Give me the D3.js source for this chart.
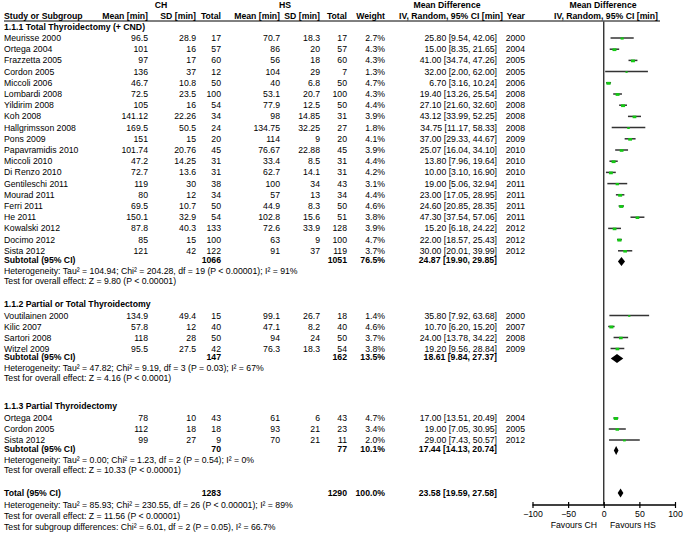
<!doctype html>
<html>
<head>
<meta charset="utf-8">
<script src="https://cdnjs.cloudflare.com/ajax/libs/d3/7.8.5/d3.min.js"></script>
<style>
body{margin:0;background:#fff}
svg{display:block;font-family:"Liberation Sans",Arial,sans-serif;font-size:8.7px;fill:#000}
.b{font-weight:bold}
</style>
</head>
<body>
<svg width="685" height="533"></svg>
<script>
// studies, in display order
const studyNames = ["Meurisse 2000","Ortega 2004","Frazzetta 2005","Cordon 2005","Miccoli 2006","Lombardi 2008","Yildirim 2008","Koh 2008","Hallgrimsson 2008","Pons 2009","Papavramidis 2010","Miccoli 2010","Di Renzo 2010","Gentileschi 2011","Mourad 2011","Ferri 2011","He 2011","Kowalski 2012","Docimo 2012","Sista 2012",
  "Voutilainen 2000","Kilic 2007","Sartori 2008","Witzel 2009",
  "Ortega 2004","Cordon 2005","Sista 2012"];
const studyGroup = [0,0,0,0,0,0,0,0,0,0,0,0,0,0,0,0,0,0,0,0, 1,1,1,1, 2,2,2];
const chMean = [96.5,101,97,136,46.7,72.5,105,141.12,169.5,151,101.74,47.2,72.7,119,80,69.5,150.1,87.8,85,121, 134.9,57.8,118,95.5, 78,112,99];
const chSD   = [28.9,16,17,37,10.8,23.5,16,22.26,50.5,15,20.76,14.25,13.6,30,12,10.7,32.9,40.3,15,42, 49.4,12,28,27.5, 10,18,27];
const chN    = [17,57,60,12,50,100,54,34,24,20,45,31,31,38,34,50,54,133,100,122, 15,40,50,42, 43,18,9];
const hsMean = [70.7,86,56,104,40,53.1,77.9,98,134.75,114,76.67,33.4,62.7,100,57,44.9,102.8,72.6,63,91, 99.1,47.1,94,76.3, 61,93,70];
const hsSD   = [18.3,20,18,29,6.8,20.7,12.5,14.85,32.25,9,22.88,8.5,14.1,34,13,8.3,15.6,33.9,9,37, 26.7,8.2,24,18.3, 6,21,21];
const hsN    = [17,57,60,7,50,100,50,31,27,20,45,31,31,43,34,50,51,128,100,119, 18,40,50,54, 43,23,11];
const weights = [2.7,4.3,4.3,1.3,4.7,4.3,4.4,3.9,1.8,4.1,3.9,4.4,4.2,3.1,4.4,4.6,3.8,3.9,4.7,3.7, 1.4,4.6,3.7,3.8, 4.7,3.4,2.0];
const md   = [25.80,15.00,41.00,32.00,6.70,19.40,27.10,43.12,34.75,37.00,25.07,13.80,10.00,19.00,23.00,24.60,47.30,15.20,22.00,30.00, 35.80,10.70,24.00,19.20, 17.00,19.00,29.00];
const ciLo = [9.54,8.35,34.74,2.00,3.16,13.26,21.60,33.99,11.17,29.33,16.04,7.96,3.10,5.06,17.05,20.85,37.54,6.18,18.57,20.01, 7.92,6.20,13.78,9.56, 13.51,7.05,7.43];
const ciHi = [42.06,21.65,47.26,62.00,10.24,25.54,32.60,52.25,58.33,44.67,34.10,19.64,16.90,32.94,28.95,28.35,57.06,24.22,25.43,39.99, 63.68,15.20,34.22,28.84, 20.49,30.95,50.57];
const years = [2000,2004,2005,2005,2006,2008,2008,2008,2008,2009,2010,2010,2010,2011,2011,2011,2011,2012,2012,2012, 2000,2007,2008,2009, 2004,2005,2012];

// subgroups
const groupTitles = ["1.1.1 Total Thyroidectomy (+ CND)","1.1.2 Partial or Total Thyroidectomy","1.1.3 Partial Thyroidectomy"];
const subChN = [1066,147,70];
const subHsN = [1051,162,77];
const subWeight = [76.5,13.5,10.1];
const subMd = [24.87,18.61,17.44];
const subLo = [19.90,9.84,14.13];
const subHi = [29.85,27.37,20.74];
const subHet = ["Heterogeneity: Tau² = 104.94; Chi² = 204.28, df = 19 (P < 0.00001); I² = 91%",
  "Heterogeneity: Tau² = 47.82; Chi² = 9.19, df = 3 (P = 0.03); I² = 67%",
  "Heterogeneity: Tau² = 0.00; Chi² = 1.23, df = 2 (P = 0.54); I² = 0%"];
const subTest = ["Test for overall effect: Z = 9.80 (P < 0.00001)",
  "Test for overall effect: Z = 4.16 (P < 0.0001)",
  "Test for overall effect: Z = 10.33 (P < 0.00001)"];

// overall
const totalChN = 1283, totalHsN = 1290, totalWeight = 100.0;
const totalMd = 23.58, totalLo = 19.59, totalHi = 27.58;
const totalNotes = ["Heterogeneity: Tau² = 85.93; Chi² = 230.55, df = 26 (P < 0.00001); I² = 89%",
  "Test for overall effect: Z = 11.56 (P < 0.00001)",
  "Test for subgroup differences: Chi² = 6.01, df = 2 (P = 0.05), I² = 66.7%"];

const axisTicks = [-100,-50,0,50,100];
const favours = ["Favours CH","Favours HS"];

const svg = d3.select("svg");
const x = d3.scaleLinear().domain([-100,100]).range([532.5,675]);

// column right edges
const col = {chMean:148, chSD:196, chN:221, hsMean:280, hsSD:320, hsN:347, w:385, ci:497, yr:525};

function txt(xp, yp, s, anchor, bold){
  svg.append("text").attr("x",xp).attr("y",yp).attr("dy","0.35em")
    .attr("text-anchor",anchor||"start").attr("class",bold?"b":null).text(s);
}

// header
txt(161,5,"CH","middle",true);
txt(285,5,"HS","middle",true);
txt(447,5,"Mean Difference","middle",true);
txt(603,5,"Mean Difference","middle",true);
txt(4,16,"Study or Subgroup","start",true);
txt(col.chMean,16,"Mean [min]","end",true);
txt(col.chSD,16,"SD [min]","end",true);
txt(col.chN,16,"Total","end",true);
txt(col.hsMean,16,"Mean [min]","end",true);
txt(col.hsSD,16,"SD [min]","end",true);
txt(col.hsN,16,"Total","end",true);
txt(col.w,16,"Weight","end",true);
txt(503,16,"IV, Random, 95% CI [min]","end",true);
txt(col.yr,16,"Year","end",true);
txt(606,16,"IV, Random, 95% CI [min]","middle",true);
svg.append("line").attr("x1",4).attr("x2",660).attr("y1",21).attr("y2",21)
  .attr("stroke","#000").attr("stroke-width",1);

// row layout: subgroup title, first study, study step, subtotal
const groupStart = [26.5, 304, 406];
const firstRow   = [38, 315.5, 418];
const rowStep    = [11.2, 11, 11];
const subRow     = [260, 357, 449];
const axisY = 505;

const f2 = d => d.toFixed(2);
const ciText = (m,l,h) => f2(m)+" ["+f2(l)+", "+f2(h)+"]";

// zero line
svg.append("line").attr("x1",x(0)).attr("x2",x(0)).attr("y1",21.5).attr("y2",axisY)
  .attr("stroke","#222").attr("stroke-width",1.3);

function diamond(yc, m, l, h){
  const p = [[x(l),yc],[x(m),yc-4.5],[x(h),yc],[x(m),yc+4.5]];
  svg.append("path").attr("d","M"+p.join("L")+"Z").attr("fill","#000");
}

groupTitles.forEach((title, g) => {
  txt(4, groupStart[g], title, "start", true);
  const idx = studyGroup.map((v,i)=>v===g?i:-1).filter(i=>i>=0);
  idx.forEach((i, k) => {
    const yy = firstRow[g] + k*rowStep[g];
    txt(4, yy, studyNames[i]);
    txt(col.chMean, yy, String(chMean[i]), "end");
    txt(col.chSD, yy, String(chSD[i]), "end");
    txt(col.chN, yy, String(chN[i]), "end");
    txt(col.hsMean, yy, String(hsMean[i]), "end");
    txt(col.hsSD, yy, String(hsSD[i]), "end");
    txt(col.hsN, yy, String(hsN[i]), "end");
    txt(col.w, yy, weights[i].toFixed(1)+"%", "end");
    txt(col.ci, yy, ciText(md[i],ciLo[i],ciHi[i]), "end");
    txt(col.yr, yy, String(years[i]), "end");
    svg.append("line").attr("x1",x(ciLo[i])).attr("x2",x(ciHi[i])).attr("y1",yy).attr("y2",yy)
      .attr("stroke","#333").attr("stroke-width",1.5);
    const s = Math.sqrt(weights[i])*1.9;
    svg.append("rect").attr("x",x(md[i])-s/2).attr("y",yy-s*0.35+0.5).attr("width",s).attr("height",s*0.7)
      .attr("fill","#14c814");
  });
  const ys = subRow[g];
  txt(4, ys, "Subtotal (95% CI)", "start", true);
  txt(col.chN, ys, String(subChN[g]), "end", true);
  txt(col.hsN, ys, String(subHsN[g]), "end", true);
  txt(col.w, ys, subWeight[g].toFixed(1)+"%", "end", true);
  txt(col.ci, ys, ciText(subMd[g],subLo[g],subHi[g]), "end", true);
  diamond(ys + 1.5, subMd[g], subLo[g], subHi[g]);
  txt(4, ys+10.5, subHet[g]);
  txt(4, ys+21, subTest[g]);
});

// total
const yt = 493;
txt(4, yt, "Total (95% CI)", "start", true);
txt(col.chN, yt, String(totalChN), "end", true);
txt(col.hsN, yt, String(totalHsN), "end", true);
txt(col.w, yt, totalWeight.toFixed(1)+"%", "end", true);
txt(col.ci, yt, ciText(totalMd,totalLo,totalHi), "end", true);
diamond(yt, totalMd, totalLo, totalHi);
totalNotes.forEach((s,i) => txt(4, 504.5 + i*11, s));

// axis
const ax = svg.append("g").attr("transform","translate(0,"+axisY+")")
  .call(d3.axisBottom(x).tickValues(axisTicks).tickSize(3).tickPadding(3).tickFormat(d3.format("d")));
ax.select(".domain").attr("stroke","#000").attr("stroke-width",1.3).attr("d","M"+x(-100)+",0H"+x(100));
ax.selectAll(".tick line").attr("y1",-3).attr("y2",3).attr("stroke","#000").attr("stroke-width",1.2);
ax.selectAll(".tick text").attr("font-size","8.7px").attr("font-family","Liberation Sans, Arial, sans-serif").attr("fill","#000");
txt(597, 525, favours[0], "end");
txt(610, 525, favours[1], "start");
</script>
</body>
</html>
